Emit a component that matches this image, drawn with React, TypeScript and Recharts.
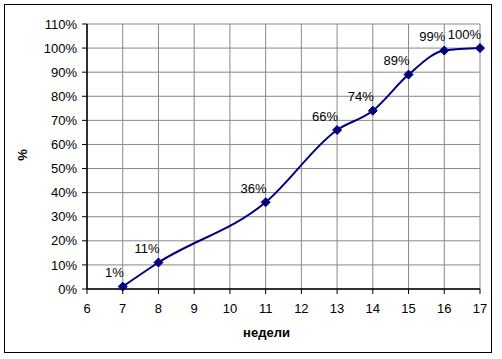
import React from 'react';
import { LineChart, Line, XAxis, YAxis, CartesianGrid } from 'recharts';

const weeks = [7, 8, 11, 13, 14, 15, 16, 17];
const percents = [1, 11, 36, 66, 74, 89, 99, 100];
const xTicks = [6, 7, 8, 9, 10, 11, 12, 13, 14, 15, 16, 17];
const yTicks = [0, 10, 20, 30, 40, 50, 60, 70, 80, 90, 100, 110];
const xTitle = 'недели';
const yTitle = '%';

const data = weeks.map((w, i) => ({ week: w, value: percents[i] }));

const NAVY = '#000080';
const FONT = '"Liberation Sans", Arial, sans-serif';

const Diamond = (props: any) => {
  const { cx, cy } = props;
  if (cx == null || cy == null) return null;
  const r = 4.5;
  return (
    <polygon
      points={`${cx},${cy - r} ${cx + r},${cy} ${cx},${cy + r} ${cx - r},${cy}`}
      fill={NAVY}
      stroke={NAVY}
      strokeWidth={1}
    />
  );
};

const ValueLabel = (props: any) => {
  const { x, y, value } = props;
  return (
    <text
      x={x + 1}
      y={y - 14}
      textAnchor="end"
      dominantBaseline="central"
      fontFamily={FONT}
      fontSize={13}
      fill="#000"
    >
      {value}%
    </text>
  );
};

export default function App() {
  return (
    <div style={{ position: 'absolute', left: 0, top: 0, width: 502, height: 359, background: '#fff' }}>
      <div
        style={{
          position: 'absolute',
          left: 4,
          top: 4,
          width: 488,
          height: 349,
          border: '1.5px solid #000',
          boxSizing: 'border-box',
        }}
      />
      <LineChart
        width={502}
        height={359}
        data={data}
        margin={{ top: 24, right: 22, bottom: 0, left: 0 }}
        style={{ position: 'absolute', left: 0, top: 0 }}
      >
        <CartesianGrid stroke="#888" strokeWidth={1} vertical horizontal />
        <XAxis
          dataKey="week"
          type="number"
          domain={[6, 17]}
          ticks={xTicks}
          interval={0}
          height={70}
          tickSize={5}
          tickMargin={10}
          axisLine={{ stroke: '#000', strokeWidth: 1.5 }}
          tickLine={{ stroke: '#000' }}
          tick={{ fontFamily: FONT, fontSize: 13, fill: '#000' }}
          label={(p: any) => {
            const vb = p.viewBox;
            return (
              <text
                x={vb.x + vb.width / 2 - 17}
                y={332}
                textAnchor="middle"
                dominantBaseline="central"
                fontFamily={FONT}
                fontSize={13}
                fontWeight="bold"
                fill="#000"
              >
                {xTitle}
              </text>
            );
          }}
        />
        <YAxis
          type="number"
          domain={[0, 110]}
          ticks={yTicks}
          interval={0}
          width={87}
          tickSize={5}
          tickMargin={5}
          tickFormatter={(v: number) => `${v}%`}
          axisLine={{ stroke: '#000', strokeWidth: 1.5 }}
          tickLine={{ stroke: '#000' }}
          tick={{ fontFamily: FONT, fontSize: 13, fill: '#000' }}
          label={(p: any) => (
            <text
              x={22}
              y={155}
              transform="rotate(-90 22 155)"
              textAnchor="middle"
              dominantBaseline="central"
              fontFamily={FONT}
              fontSize={13}
              fontWeight="bold"
              fill="#000"
            >
              {yTitle}
            </text>
          )}
        />
        <Line
          type="monotone"
          dataKey="value"
          stroke={NAVY}
          strokeWidth={2}
          dot={<Diamond />}
          activeDot={false}
          isAnimationActive={false}
          label={<ValueLabel />}
        />
      </LineChart>
    </div>
  );
}
